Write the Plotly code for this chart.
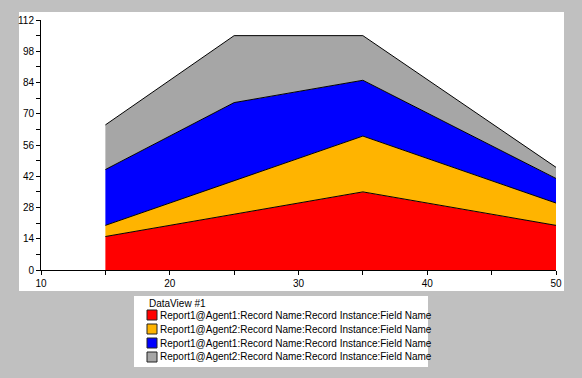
import plotly.graph_objects as go

# ---- data ----
x_vals = [15, 25, 35, 50]
red_vals = [15, 25, 35, 20]
orange_vals = [5, 15, 25, 10]
blue_vals = [25, 35, 25, 11]
gray_vals = [20, 30, 20, 5]
series_values = [red_vals, orange_vals, blue_vals, gray_vals]
series_names = [
    "Report1@Agent1:Record Name:Record Instance:Field Name",
    "Report1@Agent2:Record Name:Record Instance:Field Name",
    "Report1@Agent1:Record Name:Record Instance:Field Name",
    "Report1@Agent2:Record Name:Record Instance:Field Name",
]
colors = ["#ff0000", "#ffb400", "#0000ff", "#a6a6a6"]
legend_title = "DataView #1"
y_ticks = [0, 14, 28, 42, 56, 70, 84, 98, 112]
x_ticks = [10, 20, 30, 40, 50]

W, H = 582, 378
L, R, T, B = 41, 26, 20, 108
PW, PH = W - L - R, H - T - B


def px(xp):
    return (xp - L) / PW


def py(yp):
    return (H - B - yp) / PH


FONT = "Liberation Sans, Arial, sans-serif"

fig = go.Figure()
for name, vals, col in zip(series_names, series_values, colors):
    fig.add_trace(go.Scatter(
        x=x_vals, y=vals, name=name, stackgroup="one", mode="lines",
        line=dict(color="black", width=1), fillcolor=col, showlegend=False,
    ))

shapes = [
    # white chart panel
    dict(type="rect", xref="paper", yref="paper", x0=px(19), x1=px(564),
         y0=py(291), y1=py(12), fillcolor="white", line=dict(width=0), layer="below"),
    # legend panel
    dict(type="rect", xref="paper", yref="paper", x0=px(134), x1=px(428),
         y0=py(367), y1=py(296), fillcolor="white", line=dict(width=0), layer="below"),
]
annotations = [
    dict(text=legend_title, xref="paper", yref="paper", x=px(147), y=py(303),
         xanchor="left", yanchor="middle", showarrow=False,
         font=dict(family=FONT, size=10, color="black")),
]
for i, (name, col) in enumerate(zip(series_names, colors)):
    cy = 315 + i * 14
    shapes.append(dict(type="rect", xref="paper", yref="paper",
                       x0=px(147), x1=px(157), y0=py(cy + 5), y1=py(cy - 5),
                       fillcolor=col, line=dict(color="#222222", width=1)))
    annotations.append(dict(text=name, xref="paper", yref="paper", x=px(158), y=py(cy),
                            xanchor="left", yanchor="middle", showarrow=False,
                            font=dict(family=FONT, size=10, color="black")))

fig.update_layout(
    width=W, height=H, autosize=False,
    margin=dict(l=L, r=R, t=T, b=B, pad=0),
    paper_bgcolor="#c0c0c0", plot_bgcolor="white",
    font=dict(family=FONT, size=10, color="black"),
    shapes=shapes, annotations=annotations, showlegend=False,
    xaxis=dict(range=[10, 50], tickvals=x_ticks, ticks="outside", ticklen=4,
               tickcolor="black", showline=True, linecolor="black", linewidth=1,
               showgrid=False, zeroline=False, fixedrange=True,
               minor=dict(dtick=5, tick0=10, ticks="outside", ticklen=4, tickcolor="black", showgrid=False),
               tickfont=dict(size=10)),
    yaxis=dict(range=[0, 112], tickvals=y_ticks, ticks="outside", ticklen=4,
               tickcolor="black", showline=True, linecolor="black", linewidth=1,
               showgrid=False, zeroline=False, fixedrange=True,
               minor=dict(dtick=7, tick0=0, ticks="outside", ticklen=4, tickcolor="black", showgrid=False),
               tickfont=dict(size=10)),
)

fig.write_html("out.html", config={"displayModeBar": False},
               post_script="document.body.style.margin='0';")
